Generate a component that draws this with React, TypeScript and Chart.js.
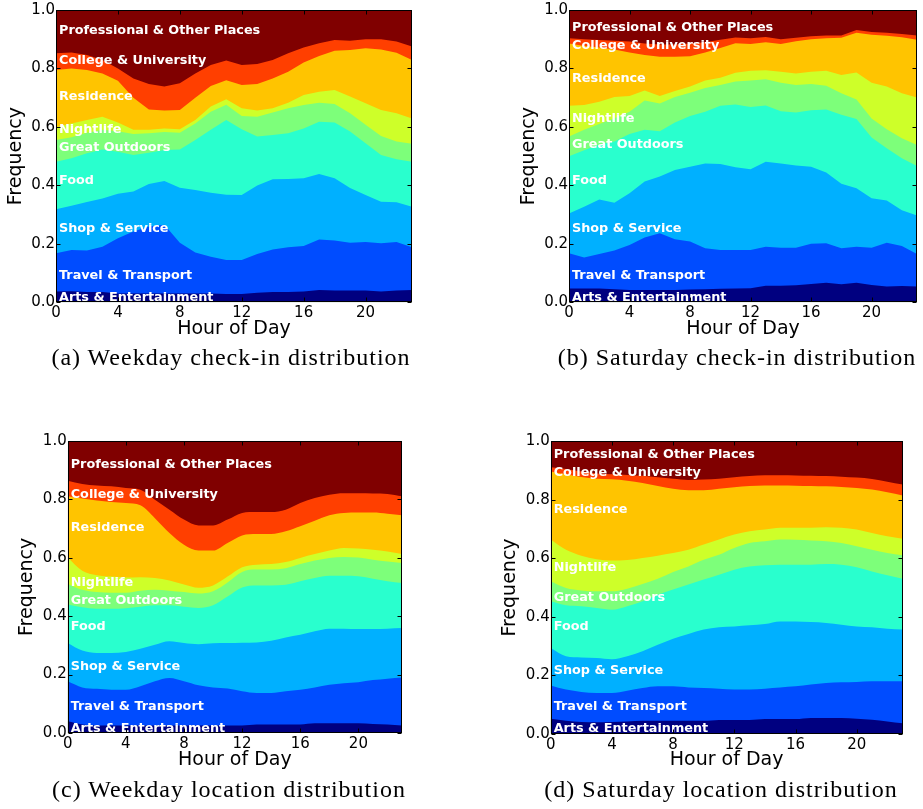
import React, { useEffect, useRef } from "react";
import { Chart, registerables } from "chart.js";

Chart.register(...registerables);

// ---------- data ----------
const hours = [0, 1, 2, 3, 4, 5, 6, 7, 8, 9, 10, 11, 12, 13, 14, 15, 16, 17, 18, 19, 20, 21, 22, 23];

const categories = [
  "Arts & Entertainment",
  "Travel & Transport",
  "Shop & Service",
  "Food",
  "Great Outdoors",
  "Nightlife",
  "Residence",
  "College & University",
  "Professional & Other Places",
];

const colors = ["#000080", "#004CFF", "#00B0FF", "#29FFCE", "#7DFF7A", "#CEFF29", "#FFC400", "#FF3F00", "#800000"];

// cumulative frequency (top edge of each category band), stacked bottom to top
const total = [1, 1, 1, 1, 1, 1, 1, 1, 1, 1, 1, 1, 1, 1, 1, 1, 1, 1, 1, 1, 1, 1, 1, 1];

// (a) Weekday check-in
const aArts = [0.037, 0.038, 0.035, 0.035, 0.03, 0.03, 0.03, 0.03, 0.03, 0.03, 0.03, 0.028, 0.028, 0.033, 0.035, 0.035, 0.037, 0.042, 0.04, 0.04, 0.04, 0.037, 0.04, 0.042];
const aTravel = [0.168, 0.179, 0.177, 0.19, 0.219, 0.242, 0.259, 0.265, 0.204, 0.17, 0.156, 0.145, 0.145, 0.165, 0.181, 0.188, 0.193, 0.215, 0.211, 0.204, 0.206, 0.202, 0.206, 0.188];
const aShop = [0.318, 0.33, 0.343, 0.355, 0.371, 0.379, 0.405, 0.415, 0.392, 0.384, 0.375, 0.368, 0.367, 0.4, 0.421, 0.422, 0.424, 0.439, 0.424, 0.391, 0.367, 0.344, 0.342, 0.327];
const aFood = [0.481, 0.493, 0.51, 0.523, 0.515, 0.504, 0.512, 0.521, 0.523, 0.555, 0.59, 0.624, 0.592, 0.567, 0.572, 0.578, 0.595, 0.618, 0.615, 0.584, 0.544, 0.504, 0.489, 0.481];
const aOutdoors = [0.555, 0.565, 0.58, 0.59, 0.585, 0.576, 0.578, 0.583, 0.58, 0.612, 0.652, 0.676, 0.637, 0.635, 0.649, 0.664, 0.675, 0.683, 0.678, 0.647, 0.607, 0.569, 0.55, 0.542];
const aNightlife = [0.6, 0.612, 0.624, 0.635, 0.615, 0.59, 0.59, 0.595, 0.592, 0.624, 0.67, 0.695, 0.664, 0.656, 0.664, 0.683, 0.709, 0.72, 0.726, 0.704, 0.681, 0.658, 0.647, 0.629];
const aResidence = [0.795, 0.8, 0.795, 0.783, 0.758, 0.7, 0.66, 0.656, 0.658, 0.7, 0.74, 0.76, 0.743, 0.747, 0.766, 0.789, 0.82, 0.843, 0.861, 0.863, 0.869, 0.865, 0.854, 0.829];
const aCollege = [0.852, 0.855, 0.846, 0.829, 0.8, 0.766, 0.747, 0.738, 0.749, 0.783, 0.812, 0.827, 0.812, 0.815, 0.829, 0.852, 0.872, 0.886, 0.897, 0.895, 0.9, 0.9, 0.892, 0.875];
const aLabelY = [0.017, 0.09, 0.252, 0.415, 0.528, 0.592, 0.703, 0.827, 0.928];

// (b) Saturday check-in
const bArts = [0.047, 0.047, 0.047, 0.045, 0.042, 0.042, 0.042, 0.042, 0.044, 0.045, 0.046, 0.047, 0.048, 0.057, 0.057, 0.058, 0.063, 0.067, 0.062, 0.067, 0.059, 0.054, 0.056, 0.054];
const bTravel = [0.168, 0.153, 0.165, 0.177, 0.196, 0.222, 0.236, 0.216, 0.208, 0.185, 0.179, 0.179, 0.179, 0.19, 0.187, 0.187, 0.2, 0.202, 0.185, 0.19, 0.187, 0.204, 0.193, 0.165];
const bShop = [0.304, 0.327, 0.352, 0.341, 0.373, 0.413, 0.43, 0.453, 0.464, 0.475, 0.473, 0.462, 0.455, 0.481, 0.475, 0.468, 0.464, 0.444, 0.406, 0.39, 0.356, 0.348, 0.315, 0.297];
const bFood = [0.5, 0.52, 0.54, 0.55, 0.576, 0.59, 0.585, 0.615, 0.637, 0.652, 0.672, 0.677, 0.668, 0.673, 0.654, 0.649, 0.657, 0.66, 0.642, 0.627, 0.564, 0.527, 0.493, 0.466];
const bOutdoors = [0.567, 0.59, 0.61, 0.63, 0.652, 0.69, 0.68, 0.702, 0.717, 0.733, 0.743, 0.755, 0.759, 0.763, 0.751, 0.743, 0.747, 0.741, 0.715, 0.694, 0.629, 0.592, 0.561, 0.538];
const bNightlife = [0.672, 0.675, 0.686, 0.702, 0.706, 0.725, 0.706, 0.723, 0.738, 0.759, 0.768, 0.785, 0.792, 0.794, 0.789, 0.783, 0.789, 0.792, 0.778, 0.786, 0.751, 0.738, 0.715, 0.701];
const bResidence = [0.885, 0.877, 0.872, 0.865, 0.855, 0.846, 0.84, 0.84, 0.842, 0.855, 0.87, 0.886, 0.884, 0.89, 0.884, 0.893, 0.9, 0.903, 0.905, 0.922, 0.915, 0.912, 0.907, 0.898];
const bCollege = [0.903, 0.9, 0.897, 0.895, 0.892, 0.885, 0.882, 0.882, 0.885, 0.89, 0.898, 0.906, 0.903, 0.908, 0.9, 0.905, 0.91, 0.913, 0.913, 0.932, 0.925, 0.922, 0.918, 0.913];
const bLabelY = [0.017, 0.09, 0.252, 0.416, 0.54, 0.628, 0.765, 0.878, 0.941];

// (c) Weekday location
const cArts = [0.04, 0.029, 0.026, 0.026, 0.026, 0.026, 0.026, 0.026, 0.026, 0.026, 0.026, 0.026, 0.026, 0.029, 0.029, 0.029, 0.029, 0.033, 0.033, 0.033, 0.033, 0.031, 0.029, 0.026];
const cTravel = [0.177, 0.156, 0.151, 0.148, 0.148, 0.16, 0.177, 0.188, 0.177, 0.163, 0.156, 0.152, 0.143, 0.137, 0.137, 0.143, 0.148, 0.156, 0.165, 0.17, 0.174, 0.181, 0.186, 0.19];
const cShop = [0.308, 0.282, 0.274, 0.274, 0.277, 0.288, 0.302, 0.314, 0.308, 0.304, 0.307, 0.308, 0.309, 0.31, 0.316, 0.327, 0.336, 0.348, 0.357, 0.357, 0.356, 0.356, 0.357, 0.359];
const cFood = [0.44, 0.43, 0.425, 0.425, 0.427, 0.432, 0.437, 0.437, 0.432, 0.428, 0.437, 0.467, 0.498, 0.505, 0.505, 0.507, 0.519, 0.53, 0.538, 0.538, 0.536, 0.528, 0.519, 0.513];
const cOutdoors = [0.51, 0.49, 0.482, 0.48, 0.48, 0.487, 0.49, 0.487, 0.482, 0.477, 0.485, 0.515, 0.551, 0.559, 0.559, 0.564, 0.578, 0.59, 0.599, 0.602, 0.6, 0.593, 0.587, 0.582];
const cNightlife = [0.6, 0.555, 0.54, 0.535, 0.532, 0.533, 0.53, 0.522, 0.508, 0.497, 0.505, 0.535, 0.567, 0.576, 0.578, 0.585, 0.599, 0.612, 0.624, 0.633, 0.631, 0.627, 0.621, 0.612];
const cResidence = [0.81, 0.802, 0.795, 0.79, 0.787, 0.779, 0.735, 0.684, 0.644, 0.624, 0.624, 0.65, 0.676, 0.681, 0.681, 0.69, 0.707, 0.726, 0.745, 0.753, 0.754, 0.754, 0.75, 0.745];
const cCollege = [0.863, 0.852, 0.847, 0.844, 0.838, 0.832, 0.798, 0.764, 0.73, 0.71, 0.71, 0.73, 0.753, 0.756, 0.756, 0.764, 0.787, 0.804, 0.815, 0.82, 0.82, 0.819, 0.818, 0.81];
const cLabelY = [0.014, 0.089, 0.227, 0.365, 0.453, 0.515, 0.704, 0.815, 0.917];

// (d) Saturday location
const dArts = [0.051, 0.044, 0.04, 0.039, 0.04, 0.042, 0.044, 0.044, 0.044, 0.044, 0.044, 0.047, 0.047, 0.047, 0.05, 0.05, 0.05, 0.054, 0.054, 0.054, 0.051, 0.048, 0.042, 0.036];
const dTravel = [0.165, 0.151, 0.143, 0.139, 0.139, 0.147, 0.156, 0.162, 0.162, 0.158, 0.156, 0.154, 0.151, 0.151, 0.154, 0.158, 0.162, 0.168, 0.173, 0.176, 0.177, 0.179, 0.179, 0.179];
const dShop = [0.293, 0.265, 0.261, 0.259, 0.255, 0.265, 0.282, 0.304, 0.325, 0.341, 0.356, 0.364, 0.367, 0.371, 0.375, 0.384, 0.384, 0.382, 0.379, 0.373, 0.367, 0.364, 0.359, 0.356];
const dFood = [0.453, 0.439, 0.436, 0.43, 0.424, 0.436, 0.453, 0.475, 0.493, 0.51, 0.527, 0.544, 0.561, 0.572, 0.576, 0.578, 0.578, 0.578, 0.58, 0.578, 0.569, 0.555, 0.542, 0.53];
const dOutdoors = [0.521, 0.498, 0.49, 0.487, 0.487, 0.496, 0.512, 0.53, 0.553, 0.572, 0.595, 0.612, 0.635, 0.652, 0.658, 0.664, 0.663, 0.661, 0.658, 0.652, 0.641, 0.629, 0.618, 0.61];
const dNightlife = [0.664, 0.629, 0.609, 0.597, 0.592, 0.594, 0.601, 0.609, 0.618, 0.629, 0.647, 0.664, 0.681, 0.692, 0.698, 0.704, 0.704, 0.704, 0.706, 0.704, 0.698, 0.686, 0.675, 0.667];
const dResidence = [0.897, 0.887, 0.878, 0.872, 0.87, 0.865, 0.857, 0.847, 0.838, 0.833, 0.833, 0.838, 0.843, 0.847, 0.849, 0.849, 0.848, 0.847, 0.846, 0.844, 0.84, 0.835, 0.826, 0.815];
const dCollege = [0.911, 0.905, 0.897, 0.89, 0.887, 0.885, 0.882, 0.877, 0.872, 0.868, 0.869, 0.872, 0.877, 0.881, 0.884, 0.884, 0.883, 0.882, 0.881, 0.879, 0.876, 0.871, 0.862, 0.852];
const dLabelY = [0.016, 0.091, 0.216, 0.366, 0.466, 0.567, 0.766, 0.891, 0.954];

const xTickStep = 4;
const yTickStep = 0.2;

// ---------- panels ----------
type PanelCfg = {
  series: number[][];
  labelY: number[];
  smooth: boolean;
  plot: { L: number; T: number; R: number; B: number };
  caption: string;
  captionX: number;
  captionY: number;
};

const panels: PanelCfg[] = [
  {
    series: [aArts, aTravel, aShop, aFood, aOutdoors, aNightlife, aResidence, aCollege, total],
    labelY: aLabelY,
    smooth: false,
    plot: { L: 56, T: 10, R: 412, B: 302.3 },
    caption: "(a) Weekday check-in distribution",
    captionX: 231,
    captionY: 359,
  },
  {
    series: [bArts, bTravel, bShop, bFood, bOutdoors, bNightlife, bResidence, bCollege, total],
    labelY: bLabelY,
    smooth: false,
    plot: { L: 569, T: 10, R: 917, B: 302.3 },
    caption: "(b) Saturday check-in distribution",
    captionX: 737,
    captionY: 359,
  },
  {
    series: [cArts, cTravel, cShop, cFood, cOutdoors, cNightlife, cResidence, cCollege, total],
    labelY: cLabelY,
    smooth: true,
    plot: { L: 67.7, T: 440.7, R: 402, B: 733 },
    caption: "(c) Weekday location distribution",
    captionX: 229,
    captionY: 791,
  },
  {
    series: [dArts, dTravel, dShop, dFood, dOutdoors, dNightlife, dResidence, dCollege, total],
    labelY: dLabelY,
    smooth: true,
    plot: { L: 550.7, T: 441.3, R: 902.6, B: 733.7 },
    caption: "(d) Saturday location distribution",
    captionX: 721,
    captionY: 791,
  },
];

const Y_AXIS_W = 56;
const X_AXIS_H = 42;

function makeFramePlugin(labelY: number[]) {
  return {
    id: "frameAndLabels",
    afterDatasetsDraw(chart: any) {
      const { ctx, chartArea } = chart;
      const xs = chart.scales.x;
      const ys = chart.scales.y;
      ctx.save();
      // category labels
      ctx.font = 'bold 12.8px "DejaVu Sans"';
      ctx.fillStyle = "#ffffff";
      ctx.textAlign = "left";
      ctx.textBaseline = "middle";
      const lx = xs.getPixelForValue(0) + 3;
      categories.forEach((name, i) => {
        ctx.fillText(name, lx, ys.getPixelForValue(labelY[i]));
      });
      // spines
      ctx.strokeStyle = "#000000";
      ctx.lineWidth = 1;
      const l = Math.round(chartArea.left) + 0.5;
      const r = Math.round(chartArea.right) - 0.5;
      const t = Math.round(chartArea.top) + 0.5;
      const b = Math.round(chartArea.bottom) - 0.5;
      ctx.strokeRect(l, t, r - l, b - t);
      // inward ticks on all sides
      ctx.beginPath();
      xs.ticks.forEach((tk: any) => {
        const px = Math.round(xs.getPixelForValue(tk.value)) + 0.5;
        ctx.moveTo(px, b);
        ctx.lineTo(px, b - 4);
        ctx.moveTo(px, t);
        ctx.lineTo(px, t + 4);
      });
      ys.ticks.forEach((tk: any) => {
        const py = Math.round(ys.getPixelForValue(tk.value)) + 0.5;
        ctx.moveTo(l, py);
        ctx.lineTo(l + 4, py);
        ctx.moveTo(r, py);
        ctx.lineTo(r - 4, py);
      });
      ctx.stroke();
      ctx.restore();
    },
  };
}

function Panel({ cfg }: { cfg: PanelCfg }) {
  const ref = useRef<HTMLCanvasElement>(null);
  const { L, T, R, B } = cfg.plot;
  const cx = Math.floor(L) - 60;
  const cy = Math.floor(T) - 12;
  const cw = Math.min(Math.ceil(R) + 8, 922) - cx;
  const ch = Math.ceil(B) + 45 - cy;
  const padL = L - Y_AXIS_W - cx;
  const padT = T - cy;
  const padR = cx + cw - R;
  const padB = cy + ch - B - X_AXIS_H;

  useEffect(() => {
    const canvas = ref.current;
    if (!canvas) return;
    const chart = new Chart(canvas, {
      type: "line",
      data: {
        datasets: cfg.series.map((s, i) => ({
          label: categories[i],
          data: hours.map((h, j) => ({ x: h, y: s[j] })),
          fill: "origin",
          backgroundColor: colors[i],
          borderColor: "rgba(0,0,0,0)",
          borderWidth: 0,
          pointRadius: 0,
          pointHoverRadius: 0,
          tension: cfg.smooth ? 0.4 : 0,
          cubicInterpolationMode: cfg.smooth ? "monotone" : "default",
        })),
      },
      options: {
        animation: false,
        responsive: false,
        devicePixelRatio: 1,
        events: [],
        layout: { padding: { left: padL, top: padT, right: padR, bottom: padB } },
        plugins: {
          legend: { display: false },
          tooltip: { enabled: false },
          filler: { propagate: false },
        },
        scales: {
          x: {
            type: "linear",
            min: 0,
            max: 23,
            grid: { display: false, drawTicks: false },
            border: { display: false },
            ticks: {
              stepSize: xTickStep,
              includeBounds: false,
              color: "#000",
              padding: 2,
              maxRotation: 0,
              font: { family: "DejaVu Sans", size: 15 },
            },
            title: {
              display: true,
              text: "Hour of Day",
              color: "#000",
              font: { family: "DejaVu Sans", size: 19 },
              padding: { top: 0, bottom: 3.9 },
            },
            afterFit: (s: any) => {
              s.height = X_AXIS_H;
            },
          },
          y: {
            type: "linear",
            min: 0,
            max: 1,
            grid: { display: false, drawTicks: false },
            border: { display: false },
            ticks: {
              stepSize: yTickStep,
              color: "#000",
              padding: 1,
              font: { family: "DejaVu Sans", size: 15 },
              callback: (v: any) => Number(v).toFixed(1),
            },
            title: {
              display: true,
              text: "Frequency",
              color: "#000",
              font: { family: "DejaVu Sans", size: 19 },
              padding: { top: 4.4, bottom: 0 },
            },
            afterFit: (s: any) => {
              s.width = Y_AXIS_W;
            },
          },
        },
      },
      plugins: [makeFramePlugin(cfg.labelY)],
    } as any);
    return () => chart.destroy();
  }, []);

  return (
    <>
      <canvas
        ref={ref}
        width={cw}
        height={ch}
        style={{ position: "absolute", left: cx, top: cy, width: cw, height: ch }}
      />
      <div
        style={{
          position: "absolute",
          left: cfg.captionX - 250,
          top: cfg.captionY - 14,
          width: 500,
          textAlign: "center",
          fontFamily: '"Liberation Serif", serif',
          fontSize: 24,
          lineHeight: "24px",
          letterSpacing: 1,
          whiteSpace: "nowrap",
          color: "#000",
        }}
      >
        {cfg.caption}
      </div>
    </>
  );
}

export default function App() {
  return (
    <div
      style={{
        position: "absolute",
        left: 0,
        top: 0,
        width: 923,
        height: 809,
        overflow: "hidden",
        background: "#fff",
      }}
    >
      {panels.map((p, i) => (
        <Panel key={i} cfg={p} />
      ))}
    </div>
  );
}
